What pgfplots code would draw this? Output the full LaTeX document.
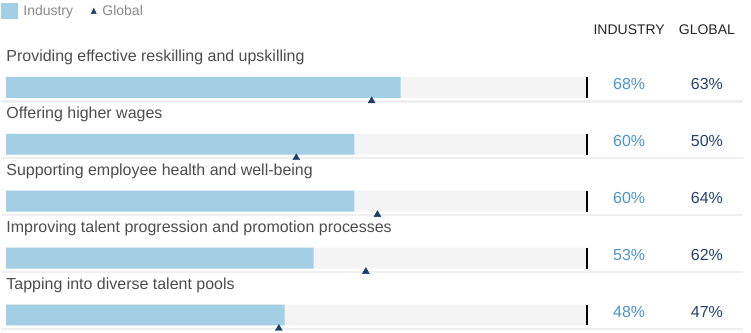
\documentclass[border=0pt]{standalone}
\usepackage{pgfplots}
\pgfplotsset{compat=1.18}
\usepackage{fontspec}
\setmainfont{Liberation Sans}

\definecolor{barblue}{HTML}{A3CFE5}
\definecolor{bggray}{HTML}{F4F4F4}
\definecolor{sepgray}{HTML}{EFEFEF}
\definecolor{navy}{HTML}{1F3D6B}
\definecolor{indtxt}{HTML}{4A94CC}
\definecolor{globtxt}{HTML}{23426E}
\definecolor{labtxt}{HTML}{4D4D4D}
\definecolor{legtxt}{HTML}{8A8A8A}

\tikzset{rowlab/.style={anchor=base west, inner sep=0pt, font=\fontsize{16}{19}\selectfont, text=labtxt}}

\begin{document}
\begin{tikzpicture}
\begin{axis}[
    scale only axis,
    width=751pt, height=333pt,
    xmin=-0.861, xmax=128.40,
    ymin=0, ymax=333, y dir=reverse,
    hide axis, clip=false,
    bar width=21pt,
    /pgf/number format/assume math mode=true,
    legend columns=-1,
    legend style={at={(axis cs:-0.861,3)}, anchor=north west,
        draw=none, fill=none, inner sep=0pt,
        font=\fontsize{14}{16}\selectfont, text=legtxt,
        /tikz/every even column/.append style={column sep=16pt}},
]
% grey track behind each bar
\addplot[xbar, bar shift=0pt, fill=bggray, draw=none, forget plot]
    coordinates {(100,87.5) (100,144.5) (100,201.5) (100,258.5) (100,315.5)};
% industry
\addplot[xbar, bar shift=0pt, fill=barblue, draw=none,
    legend image code/.code={\fill[barblue] (0pt,-8pt) rectangle (17pt,8pt); \path (20pt,0pt);}]
    coordinates {(68,87.5) (60,144.5) (60,201.5) (53,258.5) (48,315.5)};
\addlegendentry{Industry}

% row separators
\pgfplotsinvokeforeach{101.5,158.5,215.5,272.5,329.5}{
    \draw[sepgray, line width=2.5pt] (axis cs:-0.861,#1) -- (axis cs:127.0,#1);
}

% 100% end ticks
\addplot[only marks, mark=|, mark size=10.5pt, mark options={line width=2pt, draw=black}, forget plot]
    coordinates {(100.2,87.5) (100.2,144.5) (100.2,201.5) (100.2,258.5) (100.2,315.5)};

% global
\addplot[only marks, mark=triangle*, mark size=4pt, color=navy,
    legend image code/.code={\fill[navy] (0pt,-2.5pt) -- (5pt,-2.5pt) -- (2.5pt,3pt) -- cycle; \path (9pt,0pt);}]
    coordinates {(63,101) (50,158) (64,215) (62,272) (47,329)};
\addlegendentry{Global}

% value columns
\addplot[draw=none, forget plot, point meta=explicit,
    nodes near coords={\pgfmathprintnumber{\pgfplotspointmeta}\%},
    nodes near coords align=center,
    every node near coord/.append style={font=\fontsize{16}{19}\selectfont, text=indtxt}]
    coordinates {(107.4,84.5)[68] (107.4,141.5)[60] (107.4,198.5)[60] (107.4,255.5)[53] (107.4,312.5)[48]};
\addplot[draw=none, forget plot, point meta=explicit,
    nodes near coords={\pgfmathprintnumber{\pgfplotspointmeta}\%},
    nodes near coords align=center,
    every node near coord/.append style={font=\fontsize{16}{19}\selectfont, text=globtxt}]
    coordinates {(120.8,84.5)[63] (120.8,141.5)[50] (120.8,198.5)[64] (120.8,255.5)[62] (120.8,312.5)[47]};

% headers
\node[font=\fontsize{14}{16}\selectfont, text=black!85] at (axis cs:107.4,30) {INDUSTRY};
\node[font=\fontsize{14}{16}\selectfont, text=black!85] at (axis cs:120.8,30) {GLOBAL};

% row labels
\node[rowlab] at (axis cs:0,62) {Providing effective reskilling and upskilling};
\node[rowlab] at (axis cs:0,119) {Offering higher wages};
\node[rowlab] at (axis cs:0,176) {Supporting employee health and well-being};
\node[rowlab] at (axis cs:0,233) {Improving talent progression and promotion processes};
\node[rowlab] at (axis cs:0,290) {Tapping into diverse talent pools};

\path (rel axis cs:0,0) rectangle (rel axis cs:1,1);
\end{axis}
\end{tikzpicture}
\end{document}
